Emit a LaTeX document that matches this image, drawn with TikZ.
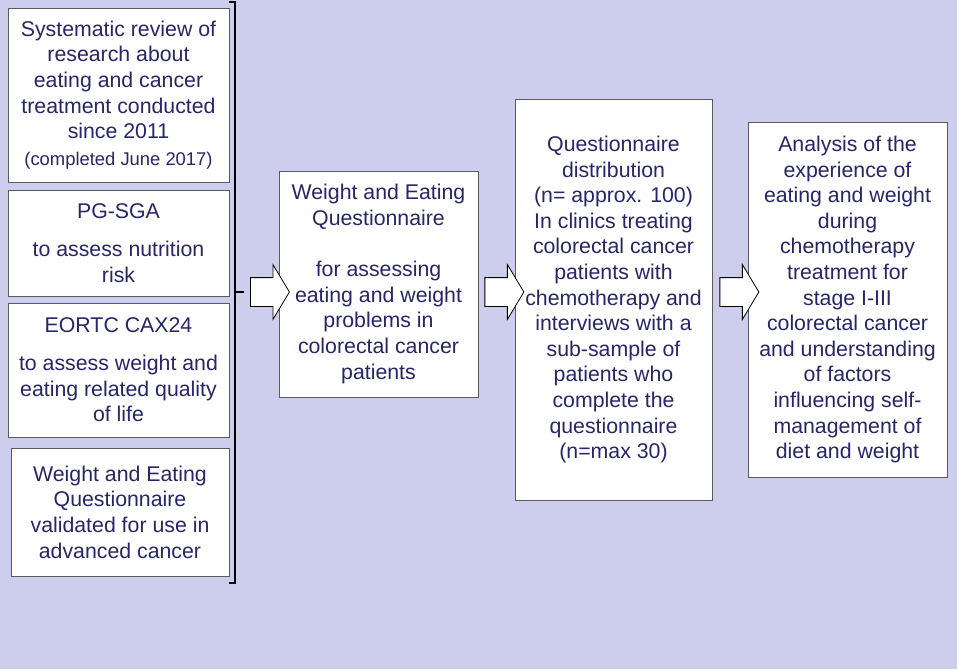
\documentclass[tikz,border=0pt]{standalone}
\usepackage{fontspec}
\setmainfont{Liberation Sans}
\usetikzlibrary{shapes.arrows,calc}

\definecolor{bgpanel}{RGB}{205,205,237}
\definecolor{inknavy}{RGB}{38,38,104}
\definecolor{boxline}{RGB}{90,90,90}
\newcommand{\bodysize}{\fontsize{21.3}{25.6}\selectfont}
\newcommand{\notesize}{\fontsize{18.4}{22}\selectfont}

\begin{document}
\begin{tikzpicture}[
  x=1pt, y=-1pt,
  box/.style={draw=boxline, line width=0.9pt, fill=white, align=center, inner sep=0pt, text=inknavy, font=\bodysize},
  barrow/.style={single arrow, draw=black, line width=0.8pt, fill=white, anchor=tail, inner xsep=0pt, inner ysep=14pt,
    minimum height=39pt, minimum width=0pt, single arrow head extend=13pt, single arrow tip angle=118},
  bracket/.style={line width=1.8pt, black}
]
\useasboundingbox (0,0) rectangle (957,669);
\fill[bgpanel] (0,0) rectangle (957,669);

\node[box, minimum width=221pt, minimum height=174pt] (review) at (118.5,95) {Systematic review of\\research about\\eating and cancer\\treatment conducted\\since 2011\\[1pt]{\notesize(completed June 2017)}};
\node[box, minimum width=221pt, minimum height=106pt] (pgsga) at (118.5,243) {PG-SGA\\[13pt]to assess nutrition\\risk};
\node[box, minimum width=221pt, minimum height=134pt] (eortc) at (118.5,370) {EORTC CAX24\\[12pt]to assess weight and\\eating related quality\\of life};
\node[box, minimum width=218pt, minimum height=128pt] (weqadv) at (120,512) {Weight and Eating\\Questionnaire\\validated for use in\\advanced cancer};

\draw[bracket] (229,2) -| (235,583) -- (229,583);
\draw[bracket] (235,292) -- (244,292) coordinate (brk);

\node[box, minimum width=199pt, minimum height=226pt] (weq) at (378.5,284) {Weight and Eating\\Questionnaire\\[25.6pt]for assessing\\eating and weight\\problems in\\colorectal cancer\\patients};
\node[box, minimum width=197pt, minimum height=401pt] (distrib) at (613.5,299.5) {Questionnaire\\distribution\\(n= approx. 100)\\In clinics treating\\colorectal cancer\\patients with\\chemotherapy and\\interviews with a\\sub-sample of\\patients who\\complete the\\questionnaire\\(n=max 30)};
\node[box, minimum width=199pt, minimum height=355pt] (analysis) at (847.5,299.5) {Analysis of the\\experience of\\eating and weight\\during\\chemotherapy\\treatment for\\stage I-III\\colorectal cancer\\and understanding\\of factors\\influencing self-\\management of\\diet and weight};

\node[barrow] (a1) at ($(brk)+(6,0)$) {};
\node[barrow, xshift=6pt] (a2) at (weq.east |- brk) {};
\node[barrow, xshift=7pt] (a3) at (distrib.east |- brk) {};

\end{tikzpicture}
\end{document}
